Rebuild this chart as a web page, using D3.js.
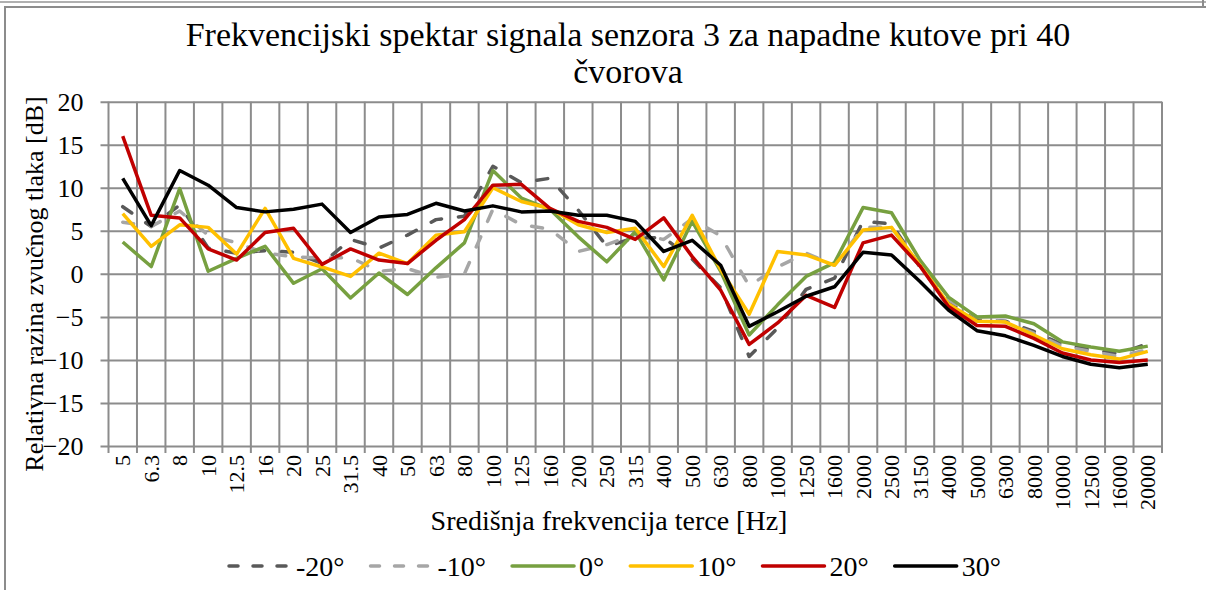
<!DOCTYPE html>
<html>
<head>
<meta charset="utf-8">
<script src="https://cdn.jsdelivr.net/npm/d3@7"></script>
<style>
  html, body { margin: 0; padding: 0; background: #fff; }
  svg { display: block; }
  text { font-family: "Liberation Serif", "DejaVu Serif", serif; fill: #000; }
</style>
</head>
<body>
<svg id="chart" width="1206" height="590"></svg>
<script>
// Third-octave band centre frequencies [Hz]
const categories = ["5","6.3","8","10","12.5","16","20","25","31.5","40","50","63","80","100","125","160","200","250","315","400","500","630","800","1000","1250","1600","2000","2500","3150","4000","5000","6300","8000","10000","12500","16000","20000"];

// Relative sound pressure level [dB] per angle of attack
const levelsMinus20 = [7.8, 5.5, 8.0, 3.0, 2.4, 2.7, 2.5, 1.2, 4.0, 3.0, 4.5, 6.3, 6.7, 12.5, 10.6, 11.1, 7.4, 3.2, 4.2, 4.2, 1.7, -1.6, -9.6, -6.3, -1.8, -0.5, 6.1, 5.8, 0.8, -3.3, -5.3, -5.5, -6.7, -8.2, -8.8, -9.3, -8.1];
const levelsMinus10 = [6.0, 5.5, 7.3, 4.5, 3.6, 2.4, 2.0, 1.8, 1.9, 0.3, 0.6, -0.4, 0.0, 7.5, 5.7, 5.2, 2.6, 3.4, 4.6, 4.0, 6.4, 4.4, -1.4, 0.8, 2.4, 1.0, 5.4, 5.4, 0.9, -3.0, -5.0, -5.6, -6.9, -8.4, -9.0, -9.6, -8.8];
const levels0 = [3.7, 0.85, 9.9, 0.3, 1.8, 3.2, -1.1, 0.6, -2.8, 0.1, -2.4, 0.7, 3.6, 12.0, 8.8, 7.5, 4.3, 1.4, 4.9, -0.7, 6.1, 0.3, -7.1, -3.6, -0.3, 1.3, 7.7, 7.1, 1.6, -2.7, -5.0, -4.9, -5.8, -7.9, -8.5, -9.0, -8.4];
const levels10 = [7.0, 3.2, 5.7, 5.4, 2.3, 7.6, 1.8, 0.8, -0.3, 2.4, 1.2, 4.5, 4.9, 10.0, 8.4, 7.6, 5.7, 4.8, 5.3, 0.85, 6.8, 0.5, -4.7, 2.6, 2.2, 1.0, 5.1, 5.4, 1.0, -3.5, -5.5, -5.6, -7.1, -8.7, -9.4, -9.9, -9.0];
const levels20 = [16.0, 6.8, 6.5, 2.9, 1.6, 4.8, 5.3, 1.1, 2.9, 1.6, 1.2, 3.9, 6.3, 10.3, 10.4, 7.6, 6.1, 5.4, 4.0, 6.5, 2.0, -1.9, -8.2, -5.7, -2.5, -3.9, 3.6, 4.5, 0.9, -3.8, -6.0, -6.1, -7.5, -9.2, -10.0, -10.3, -10.0];
const levels30 = [11.1, 5.6, 12.0, 10.3, 7.7, 7.2, 7.5, 8.1, 4.8, 6.6, 6.9, 8.2, 7.3, 7.9, 7.2, 7.3, 6.8, 6.8, 6.1, 2.6, 3.9, 1.0, -6.1, -4.4, -2.6, -1.5, 2.5, 2.2, -0.9, -4.2, -6.6, -7.2, -8.3, -9.6, -10.5, -10.9, -10.5];

const seriesNames = ["-20°", "-10°", "0°", "10°", "20°", "30°"];
const yTickValues = [-20, -15, -10, -5, 0, 5, 10, 15, 20];

const titleLines = ["Frekvencijski spektar signala senzora 3 za napadne kutove pri 40", "čvorova"];
const yTitle = "Relativna razina zvučnog tlaka [dB]";
const xTitle = "Središnja frekvencija terce [Hz]";

const series = [
  { name: seriesNames[0], values: levelsMinus20, color: "#595959", dash: "11,17" },
  { name: seriesNames[1], values: levelsMinus10, color: "#a6a6a6", dash: "11,17" },
  { name: seriesNames[2], values: levels0,       color: "#77a040", dash: null },
  { name: seriesNames[3], values: levels10,      color: "#ffc000", dash: null },
  { name: seriesNames[4], values: levels20,      color: "#c00000", dash: null },
  { name: seriesNames[5], values: levels30,      color: "#000000", dash: null }
];

const svg = d3.select("#chart");
const W = 1206, H = 590;
const plot = { left: 108.5, right: 1162, top: 101.7, bottom: 446 };
const gridColor = "#8c8c8c";

// outer frame
svg.append("line").attr("x1", 0).attr("x2", W).attr("y1", 2).attr("y2", 2)
  .attr("stroke", "#b0b0b0").attr("stroke-width", 2);
svg.append("path").attr("d", `M5,${H} V7 H${W}`).attr("fill", "none")
  .attr("stroke", gridColor).attr("stroke-width", 2);
svg.append("line").attr("x1", 1203).attr("x2", 1203).attr("y1", 0).attr("y2", 7)
  .attr("stroke", gridColor).attr("stroke-width", 2);

const x = d3.scaleBand().domain(categories).range([plot.left, plot.right]).padding(0);
const y = d3.scaleLinear().domain([-20, 20]).range([plot.bottom, plot.top]);
const cx = c => x(c) + x.bandwidth() / 2;

// horizontal gridlines (with short outside ticks)
const yAxis = d3.axisLeft(y).tickValues(yTickValues)
  .tickSize(-(plot.right - plot.left)).tickSizeOuter(0)
  .tickFormat(d3.format("d"));
const gy = svg.append("g").attr("transform", `translate(${plot.left},0)`).call(yAxis);
gy.select(".domain").remove();
gy.selectAll(".tick line").attr("stroke", gridColor).attr("stroke-width", 2).attr("x1", -8);
gy.selectAll(".tick text").attr("x", -25).style("font-size", "26px")
  .style("font-family", "'Liberation Serif', serif").attr("dy", "0.34em");

// vertical gridlines at band boundaries
const boundaries = categories.map(c => x(c)).concat([plot.right]);
svg.append("g").selectAll("line").data(boundaries).join("line")
  .attr("x1", d => d).attr("x2", d => d)
  .attr("y1", plot.top).attr("y2", plot.bottom + 7)
  .attr("stroke", gridColor).attr("stroke-width", 2);

// x axis labels, rotated
const xAxis = d3.axisBottom(x).tickSize(0).tickPadding(0);
const gx = svg.append("g").attr("transform", `translate(0,${plot.bottom})`).call(xAxis);
gx.select(".domain").remove();
gx.selectAll(".tick text")
  .attr("transform", "rotate(-90)")
  .attr("x", -9).attr("y", 0).attr("dy", "0.35em")
  .attr("text-anchor", "end")
  .style("font-size", "22px").style("font-family", "'Liberation Serif', serif");

// series lines
const line = d3.line().x((d, i) => cx(categories[i])).y(d => y(d));
svg.append("g").selectAll("path").data(series).join("path")
  .attr("d", d => line(d.values))
  .attr("fill", "none")
  .attr("stroke", d => d.color)
  .attr("stroke-width", 3.5)
  .attr("stroke-linejoin", "round")
  .attr("stroke-linecap", d => d.dash ? "round" : "butt")
  .attr("stroke-dasharray", d => d.dash);

// title
svg.append("g").selectAll("text").data(titleLines).join("text")
  .attr("x", 628).attr("y", (d, i) => 46 + i * 37)
  .attr("text-anchor", "middle").style("font-size", "34px")
  .text(d => d);

// axis titles
svg.append("text")
  .attr("transform", `translate(43,284) rotate(-90)`)
  .attr("text-anchor", "middle").style("font-size", "26px")
  .text(yTitle);
svg.append("text")
  .attr("x", 609).attr("y", 530)
  .attr("text-anchor", "middle").style("font-size", "28px")
  .text(xTitle);

// legend
const legend = svg.append("g").attr("transform", "translate(225,566)");
let lx = 0;
series.forEach(s => {
  const g = legend.append("g").attr("transform", `translate(${lx},0)`);
  g.append("line").attr("x1", 4).attr("x2", 66).attr("y1", 0).attr("y2", 0)
    .attr("stroke", s.color).attr("stroke-width", 3.5)
    .attr("stroke-linecap", "round")
    .attr("stroke-dasharray", s.dash ? "9,15" : null);
  const t = g.append("text").attr("x", 71).attr("y", 0).attr("dy", "0.35em")
    .style("font-size", "28px").text(s.name);
  lx += 71 + t.node().getComputedTextLength() + 22;
});
</script>
</body>
</html>
